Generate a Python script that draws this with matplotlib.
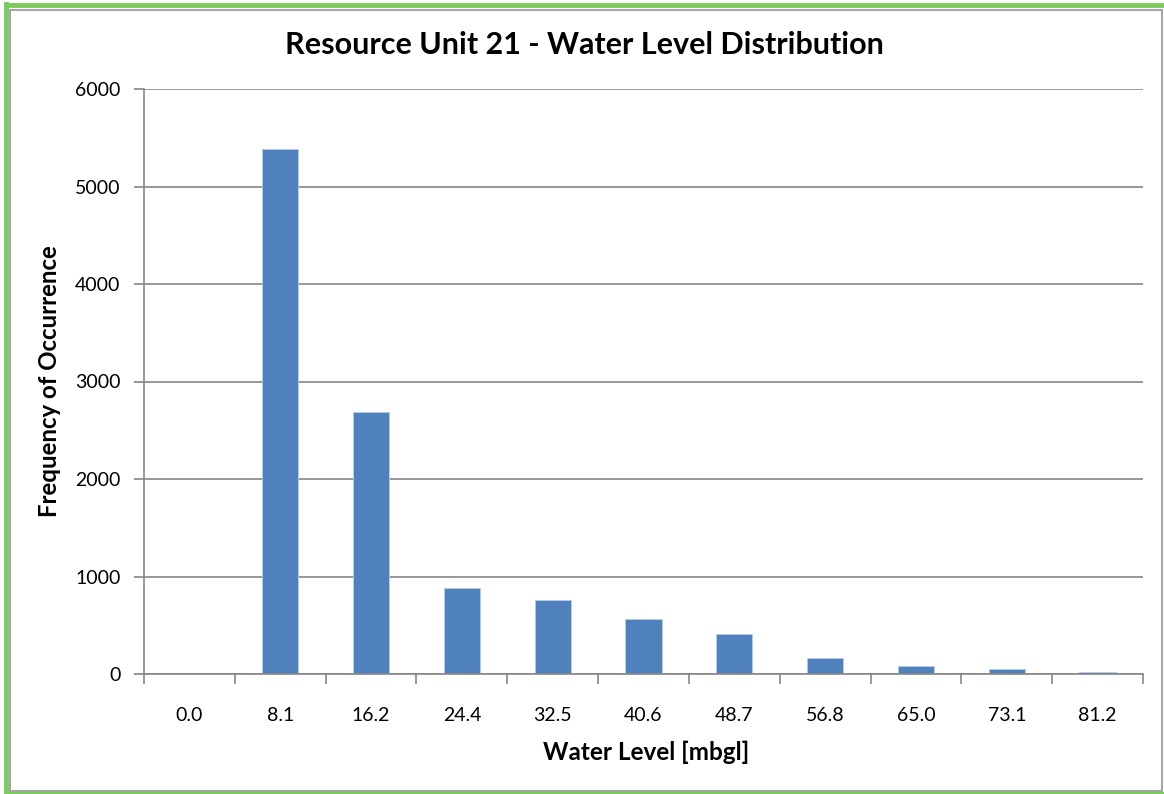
import matplotlib
matplotlib.use("Agg")
import matplotlib.pyplot as plt
from matplotlib.lines import Line2D
from matplotlib.patches import Rectangle
import numpy as np

categories = ["0.0", "8.1", "16.2", "24.4", "32.5", "40.6", "48.7", "56.8", "65.0", "73.1", "81.2"]
frequency = [0, 5385, 2687, 882, 759, 564, 410, 167, 79, 51, 24]
y_ticks = [0, 1000, 2000, 3000, 4000, 5000, 6000]

plt.rcParams['font.family'] = ['Lato', 'DejaVu Sans']

W, H = 1164, 794
fig = plt.figure(figsize=(W / 100, H / 100), dpi=100)
fig.patch.set_facecolor("white")

# figure borders: green on top, left, bottom; grey inner frame
green = "#7ACB5E"
fig.lines.append(Line2D([5.5 / W, 1.0], [1 - 5 / H, 1 - 5 / H], transform=fig.transFigure,
                        color=green, linewidth=3.5))
fig.lines.append(Line2D([5.5 / W, 5.5 / W], [0, 1 - 3.5 / H], transform=fig.transFigure,
                        color=green, linewidth=3.5))
fig.lines.append(Line2D([5.5 / W, 1.0], [1 - 793 / H, 1 - 793 / H], transform=fig.transFigure,
                        color=green, linewidth=2.5))
fig.patches.append(Rectangle((9.5 / W, 1 - 790.5 / H), (1162 - 9.5) / W, (790.5 - 9.5) / H,
                             transform=fig.transFigure, fill=False,
                             edgecolor="#A6A6A6", linewidth=1.5, zorder=1))

ax = fig.add_axes([144 / W, 1 - 674 / H, (1143 - 144) / W, (674 - 89) / H])
x = np.arange(len(categories))
ax.bar(x, frequency, width=0.4, color="#4F81BD", edgecolor="#B9CDE5",
       linewidth=0.6, zorder=3)

ax.set_xlim(-0.5, len(categories) - 0.5)
ax.set_ylim(0, 6000)
ax.set_yticks(y_ticks)
ax.set_yticklabels([str(v) for v in y_ticks])
ax.set_xticks(x)
ax.set_xticklabels(categories)
ax.set_xticks(np.arange(len(categories) + 1) - 0.5, minor=True)

ax.tick_params(axis='x', which='major', length=0, pad=24, labelsize=14, colors="#000000")
ax.tick_params(axis='x', which='minor', length=7, width=1.2, color="#868686", direction='out')
ax.tick_params(axis='y', which='major', length=7, width=1.2, color="#868686",
               direction='out', labelsize=14, pad=10)

ax.grid(axis='y', color="#868686", linewidth=1.2, zorder=0)
ax.set_axisbelow(True)
for s in ["top", "right"]:
    ax.spines[s].set_visible(False)
for s in ["left", "bottom"]:
    ax.spines[s].set_color("#868686")
    ax.spines[s].set_linewidth(1.2)
ax.spines["bottom"].set_zorder(4)

ax.set_xlabel("Water Level [mbgl]", fontsize=17.5, fontweight='bold', va='center')
ax.xaxis.set_label_coords((646 - 144) / 999, (674 - 752) / 585)
ax.set_ylabel("Frequency of Occurrence", fontsize=17.3, fontweight='bold', va='center')
ax.yaxis.set_label_coords((50 - 144) / 999, 0.5)
fig.text(584.5 / W, 1 - 45 / H, "Resource Unit 21 - Water Level Distribution",
         ha='center', va='center', fontsize=22, fontweight='bold')

fig.savefig("out.png", dpi=100, facecolor="white")
